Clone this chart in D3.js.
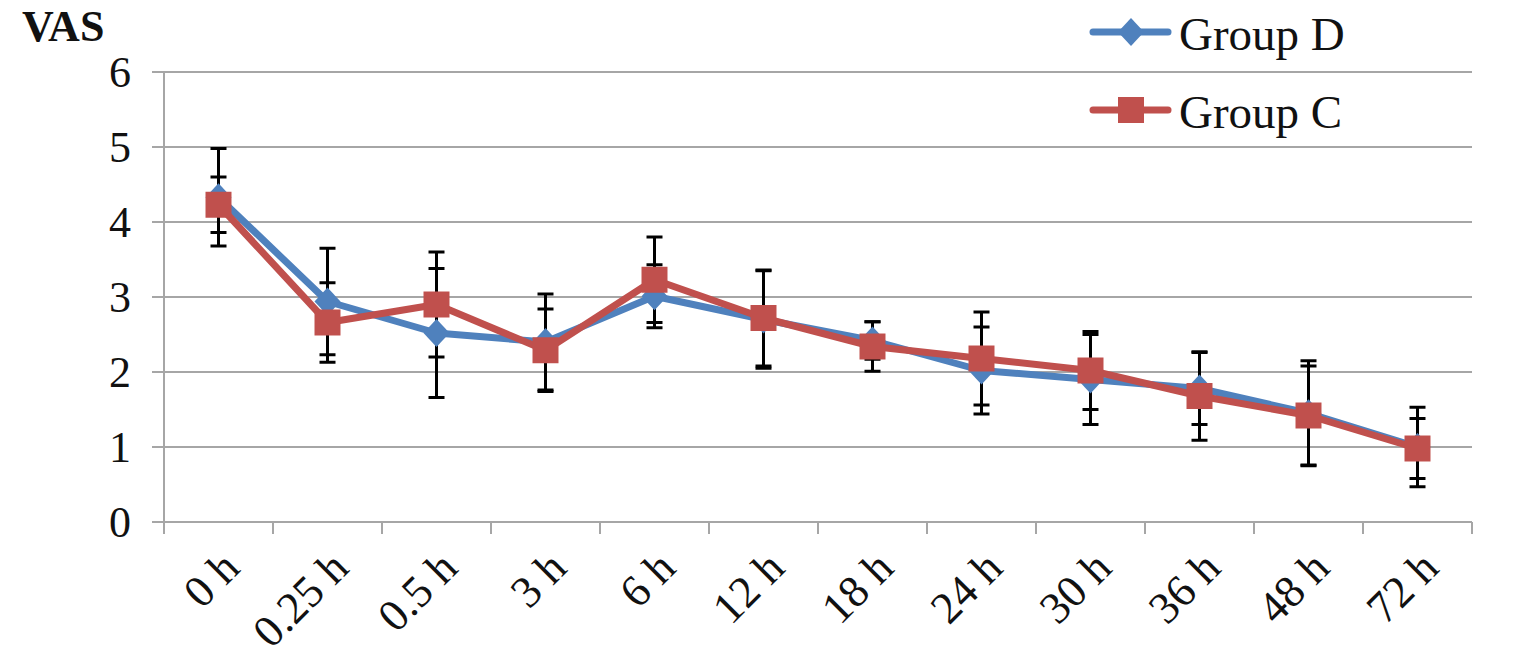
<!DOCTYPE html>
<html>
<head>
<meta charset="utf-8">
<script src="https://cdn.jsdelivr.net/npm/d3@7"></script>
<style>
  body { margin: 0; background: #fff; }
</style>
</head>
<body>
<div id="chart"></div>
<script>
// time points on the x axis
const timePoints = ['0 h', '0.25 h', '0.5 h', '3 h', '6 h', '12 h', '18 h', '24 h', '30 h', '36 h', '48 h', '72 h'];

// mean VAS and SD for each group
const groupD = [4.33, 2.94, 2.52, 2.40, 3.01, 2.70, 2.42, 2.02, 1.90, 1.78, 1.45, 1.00];
const groupDsd = [0.65, 0.71, 0.86, 0.64, 0.42, 0.65, 0.25, 0.58, 0.60, 0.48, 0.70, 0.53];
const groupC = [4.23, 2.66, 2.90, 2.29, 3.23, 2.72, 2.34, 2.18, 2.02, 1.68, 1.42, 0.98];
const groupCsd = [0.37, 0.53, 0.70, 0.55, 0.57, 0.64, 0.33, 0.62, 0.52, 0.59, 0.66, 0.40];

const yTicks = [0, 1, 2, 3, 4, 5, 6];

const width = 1517;
const height = 672;
const margin = { top: 72, right: 45, bottom: 150, left: 164 };
const font = "'Liberation Serif', 'Times New Roman', serif";

const svg = d3.select('#chart').append('svg')
  .attr('width', width)
  .attr('height', height)
  .attr('font-family', font);

const x = d3.scaleBand()
  .domain(timePoints)
  .range([margin.left, width - margin.right]);

const y = d3.scaleLinear()
  .domain([0, 6])
  .range([height - margin.bottom, margin.top]);

const gridColour = '#a6a6a6';

// horizontal gridlines with small outward ticks
svg.append('g')
  .selectAll('line')
  .data(yTicks)
  .enter()
  .append('line')
  .attr('x1', margin.left - 12)
  .attr('x2', width - margin.right)
  .attr('y1', (d) => y(d))
  .attr('y2', (d) => y(d))
  .attr('stroke', gridColour)
  .attr('stroke-width', 2);

// y axis line
svg.append('line')
  .attr('x1', margin.left)
  .attr('x2', margin.left)
  .attr('y1', y(6))
  .attr('y2', y(0))
  .attr('stroke', gridColour)
  .attr('stroke-width', 2);

// x axis tick marks at band edges
const edges = timePoints.map((d) => x(d)).concat([x.range()[1]]);
svg.append('g')
  .selectAll('line')
  .data(edges)
  .enter()
  .append('line')
  .attr('x1', (d) => d)
  .attr('x2', (d) => d)
  .attr('y1', y(0))
  .attr('y2', y(0) + 12)
  .attr('stroke', gridColour)
  .attr('stroke-width', 2);

// y tick labels
svg.append('g')
  .selectAll('text')
  .data(yTicks)
  .enter()
  .append('text')
  .attr('x', 131)
  .attr('y', (d) => y(d))
  .attr('dy', '0.35em')
  .attr('text-anchor', 'end')
  .attr('font-size', 44)
  .attr('fill', '#111')
  .text((d) => d);

// x tick labels, rotated
svg.append('g')
  .selectAll('text')
  .data(timePoints)
  .enter()
  .append('text')
  .attr('text-anchor', 'end')
  .attr('font-size', 45)
  .attr('fill', '#111')
  .attr('transform', (d) => `translate(${x(d) + x.bandwidth() / 2 + 1}, ${y(0) + 26}) rotate(-45)`)
  .attr('dy', '0.7em')
  .text((d) => d);

// axis title
svg.append('text')
  .attr('x', 22)
  .attr('y', 41)
  .attr('font-size', 44)
  .attr('font-weight', 'bold')
  .attr('fill', '#111')
  .text('VAS');

const series = [
  { name: 'Group D', values: groupD, sd: groupDsd, colour: '#4f81bd', marker: 'diamond' },
  { name: 'Group C', values: groupC, sd: groupCsd, colour: '#c0504d', marker: 'square' },
];

const cx = (i) => x(timePoints[i]) + x.bandwidth() / 2;

// error bars under the lines
series.forEach((s) => {
  const g = svg.append('g').attr('stroke', '#000').attr('stroke-width', 3);
  s.values.forEach((v, i) => {
    const top = y(v + s.sd[i]);
    const bot = y(v - s.sd[i]);
    g.append('line').attr('x1', cx(i)).attr('x2', cx(i)).attr('y1', top).attr('y2', bot);
    g.append('line').attr('x1', cx(i) - 8).attr('x2', cx(i) + 8).attr('y1', top).attr('y2', top);
    g.append('line').attr('x1', cx(i) - 8).attr('x2', cx(i) + 8).attr('y1', bot).attr('y2', bot);
  });
});

const line = d3.line()
  .x((d, i) => cx(i))
  .y((d) => y(d));

const diamond = 'M0,-14 L13,0 L0,14 L-13,0 Z';
const square = 'M-13,-13 H13 V13 H-13 Z';

series.forEach((s) => {
  svg.append('path')
    .datum(s.values)
    .attr('d', line)
    .attr('fill', 'none')
    .attr('stroke', s.colour)
    .attr('stroke-width', 7)
    .attr('stroke-linejoin', 'round');

  svg.append('g')
    .selectAll('path')
    .data(s.values)
    .enter()
    .append('path')
    .attr('d', s.marker === 'diamond' ? diamond : square)
    .attr('fill', s.colour)
    .attr('transform', (d, i) => `translate(${cx(i)}, ${y(d)})`);
});

// legend
const legend = svg.append('g')
  .selectAll('g')
  .data(series)
  .enter()
  .append('g')
  .attr('transform', (d, i) => `translate(1093, ${32 + i * 78})`);

legend.append('line')
  .attr('x1', 0)
  .attr('x2', 75)
  .attr('stroke', (d) => d.colour)
  .attr('stroke-width', 7)
  .attr('stroke-linecap', 'round');

legend.append('path')
  .attr('d', (d) => (d.marker === 'diamond' ? diamond : square))
  .attr('fill', (d) => d.colour)
  .attr('transform', 'translate(38, 0)');

legend.append('text')
  .attr('x', 86)
  .attr('y', 18)
  .attr('font-size', 47)
  .attr('fill', '#111')
  .text((d) => d.name);
</script>
</body>
</html>
